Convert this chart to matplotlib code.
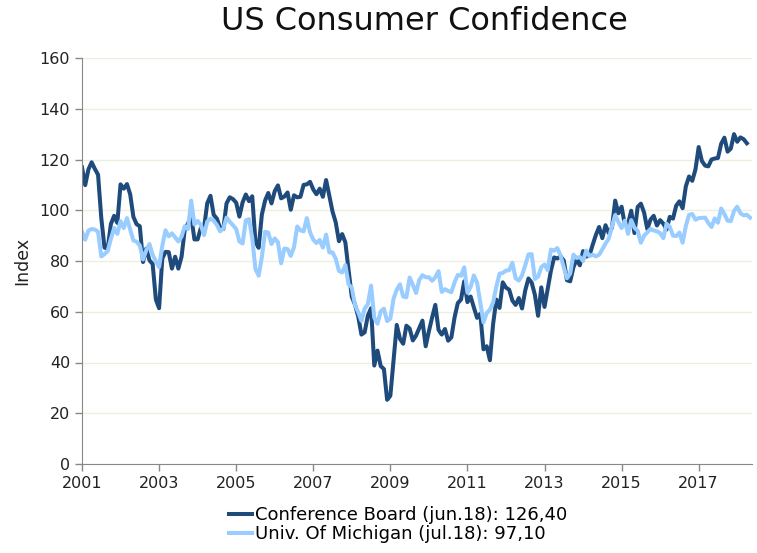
import matplotlib.pyplot as plt

# Monthly index values, Mar 2001 onwards
conference_board = [
    116.9, 109.9, 116.1, 118.9, 116.3, 114.0, 97.0, 85.3, 84.9, 94.6,                  # 2001
    97.8, 95.0, 110.2, 108.5, 110.3, 106.3, 97.4, 94.5, 93.7, 79.6, 84.9, 80.3,        # 2002
    78.8, 64.8, 61.4, 81.0, 83.6, 83.5, 77.0, 81.7, 77.0, 81.7, 92.5, 94.8,            # 2003
    97.7, 88.5, 88.5, 93.0, 93.1, 102.8, 105.7, 98.2, 96.7, 92.9, 92.6, 102.7,         # 2004
    105.1, 104.4, 103.0, 97.5, 103.1, 106.2, 103.6, 105.5, 87.5, 85.2, 98.3, 103.8,    # 2005
    106.8, 102.7, 107.5, 109.8, 104.7, 105.4, 107.0, 100.2, 105.9, 105.1, 105.3, 110.0,  # 2006
    110.2, 111.2, 108.2, 106.3, 108.5, 105.3, 111.9, 105.6, 99.5, 95.2, 87.8, 90.6,    # 2007
    87.3, 76.4, 65.9, 62.8, 58.1, 51.0, 51.9, 58.5, 61.4, 38.8, 44.7, 38.6,            # 2008
    37.4, 25.3, 26.9, 40.8, 54.8, 49.3, 47.4, 54.5, 53.4, 48.7, 50.6, 53.6,            # 2009
    56.5, 46.4, 52.3, 57.7, 62.7, 52.9, 51.0, 53.2, 48.6, 49.9, 57.8, 63.4,            # 2010
    64.8, 72.0, 63.8, 66.0, 61.7, 57.6, 59.2, 45.2, 46.4, 40.9, 55.2, 64.8,            # 2011
    61.5, 71.6, 69.5, 68.7, 64.4, 62.7, 65.4, 61.3, 68.4, 73.1, 71.5, 66.7,            # 2012
    58.4, 69.6, 61.9, 69.0, 76.2, 81.4, 81.0, 81.8, 80.2, 72.4, 72.0, 77.5,            # 2013
    80.7, 78.3, 83.9, 81.7, 82.2, 86.4, 90.3, 93.4, 89.0, 94.1, 91.0, 93.1,            # 2014
    103.8, 98.8, 101.4, 94.3, 94.6, 99.8, 91.0, 101.3, 102.6, 99.1, 92.6, 96.3,        # 2015
    97.8, 94.0, 96.1, 94.7, 92.4, 97.4, 96.7, 101.8, 103.5, 100.8, 109.4, 113.3,       # 2016
    111.6, 116.1, 124.9, 119.4, 117.6, 117.3, 120.0, 120.4, 120.6, 126.2, 128.6, 123.1,  # 2017
    124.3, 130.0, 127.0, 128.7, 128.0, 126.4,                                          # 2018
]

michigan = [
    91.5, 88.4, 92.0, 92.6, 92.4, 91.5, 81.8, 82.7, 83.9, 88.8,                        # 2001
    93.0, 90.7, 95.7, 93.0, 96.9, 92.4, 88.1, 87.6, 86.1, 80.6, 84.2, 86.7,            # 2002
    82.4, 79.9, 77.6, 86.0, 92.1, 89.7, 90.9, 89.3, 87.7, 89.6, 93.7, 92.6,            # 2003
    103.8, 94.4, 95.8, 94.2, 90.2, 95.6, 96.7, 95.9, 94.2, 91.7, 92.8, 97.1,           # 2004
    95.5, 94.1, 92.6, 87.7, 86.9, 96.0, 96.5, 89.1, 76.9, 74.2, 81.6, 91.5,            # 2005
    91.2, 86.7, 88.9, 87.4, 79.1, 84.9, 84.7, 82.0, 85.4, 93.6, 92.1, 91.7,            # 2006
    96.9, 91.3, 88.4, 87.1, 88.3, 85.3, 90.4, 83.4, 83.4, 80.9, 76.1, 75.5,            # 2007
    78.4, 70.8, 69.5, 62.6, 59.8, 56.4, 61.2, 63.0, 70.3, 57.6, 55.3, 60.1,            # 2008
    61.2, 56.3, 57.3, 65.1, 68.7, 70.8, 66.0, 65.7, 73.5, 70.6, 67.4, 72.5,            # 2009
    74.4, 73.6, 73.6, 72.2, 73.6, 76.0, 67.8, 68.9, 68.2, 67.7, 71.6, 74.5,            # 2010
    74.2, 77.5, 67.5, 69.8, 74.3, 71.5, 63.7, 55.8, 59.5, 60.8, 63.7, 69.9,            # 2011
    75.0, 75.3, 76.2, 76.4, 79.3, 73.2, 72.3, 74.3, 78.3, 82.6, 82.7, 72.9,            # 2012
    73.8, 77.6, 78.6, 76.4, 84.5, 84.1, 85.1, 82.1, 77.5, 73.2, 75.1, 82.5,            # 2013
    81.2, 81.6, 80.0, 84.1, 81.9, 82.5, 81.8, 82.5, 84.6, 86.9, 88.8, 93.6,            # 2014
    98.1, 95.4, 93.0, 95.9, 90.7, 96.1, 93.1, 91.9, 87.2, 90.0, 91.3, 92.6,            # 2015
    92.0, 91.7, 91.0, 89.0, 94.7, 93.5, 90.0, 89.8, 91.2, 87.2, 93.8, 98.2,            # 2016
    98.5, 96.3, 96.9, 97.0, 97.1, 95.0, 93.4, 96.8, 95.1, 100.7, 98.5, 95.9,           # 2017
    95.7, 99.7, 101.4, 98.8, 98.0, 98.2, 97.1,                                         # 2018
]

year_labels = ['2001', '2003', '2005', '2007', '2009', '2011', '2013', '2015', '2017']

plt.rcParams['font.family'] = 'DejaVu Sans'

fig = plt.figure(figsize=(7.57, 5.53), dpi=100)
ax = fig.add_axes([82 / 757, 89 / 553, 670 / 757, 406 / 553])

ax.plot(range(len(conference_board)), conference_board, color='#1F4A7C', lw=2.9,
        label='Conference Board (jun.18): 126,40', solid_joinstyle='round')
ax.plot(range(len(michigan)), michigan, color='#99CCFF', lw=2.9,
        label='Univ. Of Michigan (jul.18): 97,10', solid_joinstyle='round')

ax.set_xlim(0, 208.6)
ax.set_ylim(0, 160)
ax.set_yticks(range(0, 161, 20))
ax.set_xticks([24 * i for i in range(len(year_labels))])
ax.set_xticklabels(year_labels)
ax.tick_params(axis='both', labelsize=11.5, colors='#888888', labelcolor='#222222',
               length=5, width=1)
ax.grid(axis='y', color='#EDEEDF', lw=1)
ax.set_axisbelow(True)

for side in ['top', 'right']:
    ax.spines[side].set_visible(False)
for side in ['left', 'bottom']:
    ax.spines[side].set_color('#888888')

ax.set_ylabel('Index', fontsize=12.5, color='#222222', labelpad=6)
fig.text(424 / 757, 1 - 22 / 553, 'US Consumer Confidence', ha='center', va='center',
         fontsize=23, color='#111111')

fig.legend(loc='upper left', bbox_to_anchor=(229 / 757, 1 - 506 / 553), frameon=False,
           fontsize=13, handlelength=1.3, handletextpad=0.15, labelspacing=0.05,
           borderpad=0, borderaxespad=0)

fig.savefig('out.png', dpi=100)
